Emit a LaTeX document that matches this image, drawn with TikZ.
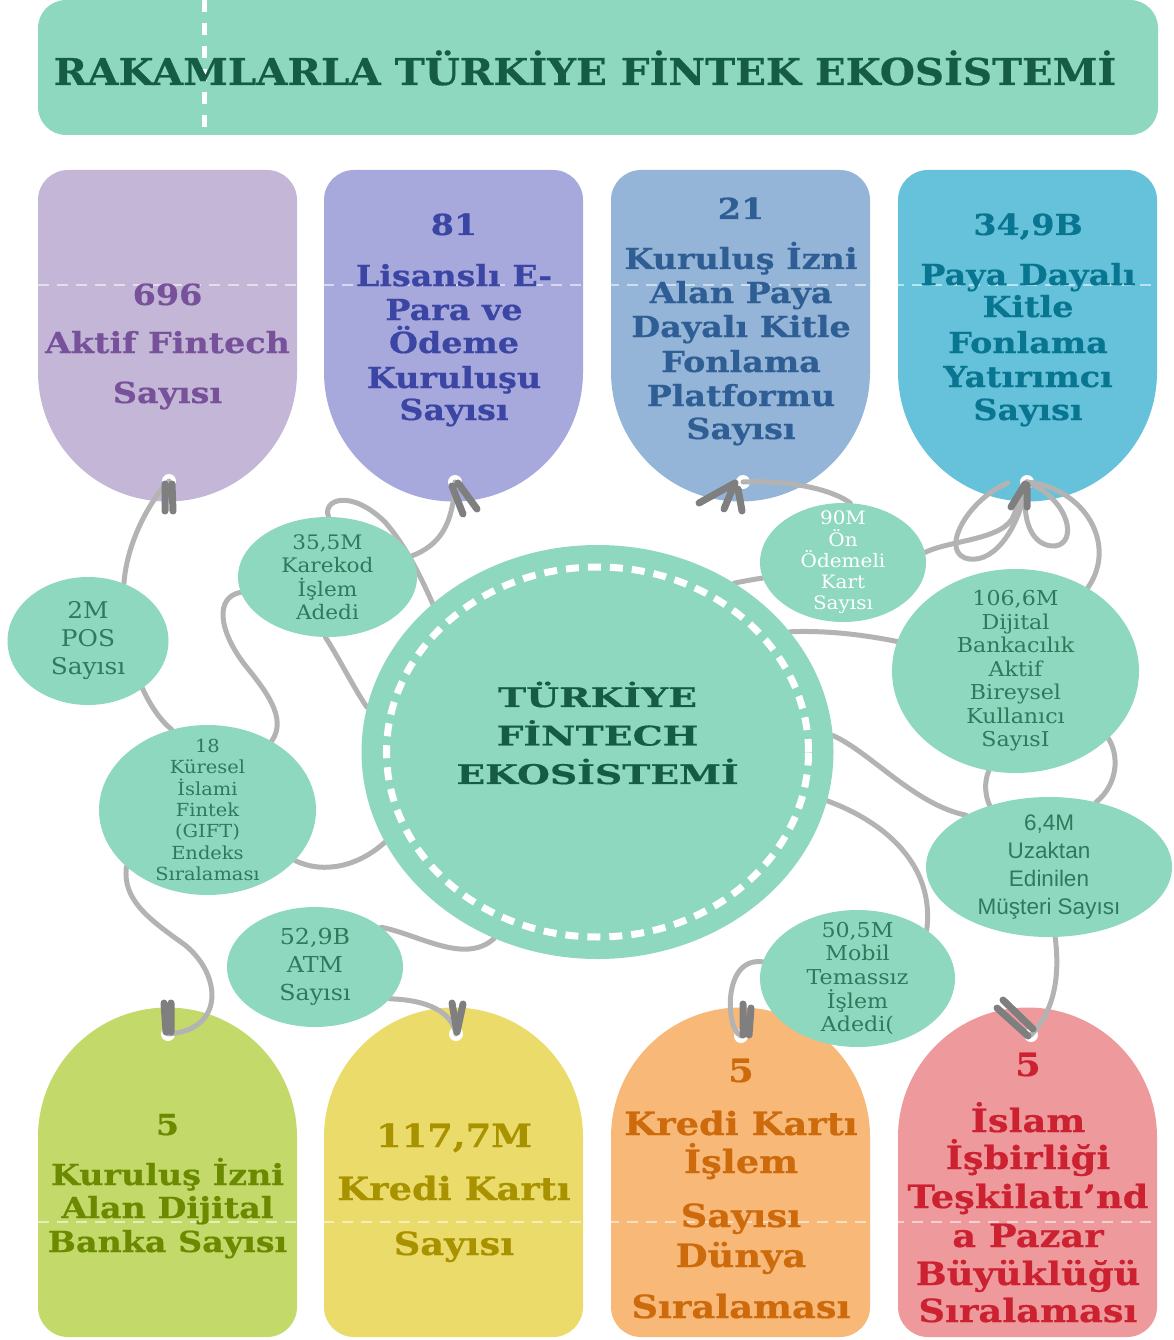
\documentclass[tikz,border=0pt]{standalone}
\usepackage{fontspec}
\usetikzlibrary{shapes.geometric}
\newfontfamily\tagfont{DejaVu Serif}[FakeStretch=1.15,FakeBold=0.6]
\newfontfamily\titlefnt{DejaVu Serif}[FakeStretch=1.09,FakeBold=0.6]
\newfontfamily\centerfnt{DejaVu Serif}[FakeStretch=1.4,FakeBold=0.6]
\newfontfamily\bubfont{DejaVu Serif}[FakeStretch=1.08]
\newfontfamily\bubsans{Liberation Sans}
\definecolor{mint}{HTML}{8ED8C0}
\definecolor{darkgreen}{HTML}{165C45}
\definecolor{bubgreen}{HTML}{2D7A5D}
\definecolor{linegray}{HTML}{B3B3B3}
\definecolor{hookgray}{HTML}{7F7F7F}
\definecolor{fA}{HTML}{C4B6D7}\definecolor{tA}{HTML}{77529B}
\definecolor{fB}{HTML}{A7A8DC}\definecolor{tB}{HTML}{3B45A3}
\definecolor{fC}{HTML}{94B5D8}\definecolor{tC}{HTML}{2F5E95}
\definecolor{fD}{HTML}{66C2DA}\definecolor{tD}{HTML}{087690}
\definecolor{fE}{HTML}{C3DA6B}\definecolor{tE}{HTML}{6B8A00}
\definecolor{fF}{HTML}{EBDB6A}\definecolor{tF}{HTML}{A89200}
\definecolor{fG}{HTML}{F7B878}\definecolor{tG}{HTML}{CC6A0C}
\definecolor{fH}{HTML}{EE9A9D}\definecolor{tH}{HTML}{CC2131}
\pgfdeclarelayer{tagl}\pgfdeclarelayer{linel}\pgfdeclarelayer{hookl}
\pgfsetlayers{tagl,linel,hookl,main}
\tikzset{
  conn/.style={draw=linegray, line width=5pt, line cap=round},
  hookline/.style={draw=hookgray, line width=7pt, line cap=round, line join=round},
  bubble/.style={ellipse, fill=mint, inner sep=0pt},
  bubtext/.style={align=center, text=bubgreen, inner sep=0pt},
  tagline/.style={anchor=base, inner sep=0pt, font=\tagfont\bfseries\fontsize{29}{34}\selectfont},
  bigline/.style={anchor=base, inner sep=0pt, font=\tagfont\bfseries\fontsize{32}{36}\selectfont},
  topdash/.style={white, opacity=0.55, line width=2pt, dash pattern=on 11pt off 8pt},
}
\newcommand\toptag[2]{%
  \fill[#2, rounded corners=30pt] (#1,170) rectangle ++(259,232);
  \fill[#2] (#1+129.5,372) circle[radius=129.5pt];}
\newcommand\bottag[2]{%
  \fill[#2, rounded corners=30pt] (#1,1107) rectangle ++(259,230);
  \fill[#2] (#1+129.5,1137) circle[radius=129.5pt];}
\begin{document}
\begin{tikzpicture}[x=1pt,y=-1pt]
\useasboundingbox (0,0) rectangle (1173,1340);
% hole coordinates
\coordinate (h1) at (169,481);
\coordinate (h2) at (455,482);
\coordinate (h3) at (743,482);
\coordinate (h4) at (1027,482);
\coordinate (hb1) at (168,1034);
\coordinate (hb2) at (456,1034);
\coordinate (hb3) at (741,1036);
\coordinate (hb4) at (1031,1035);
\coordinate (pe) at (1008,483);
\begin{pgfonlayer}{tagl}
  \fill[mint, rounded corners=28pt] (38,0) rectangle (1158,135);
  \draw[white, line width=5pt, dash pattern=on 12pt off 11pt] (204,0) -- (204,135);
  \toptag{38}{fA}\toptag{324}{fB}\toptag{611}{fC}\toptag{898}{fD}
  \bottag{38}{fE}\bottag{324}{fF}\bottag{611}{fG}\bottag{898}{fH}
  \draw[topdash] (38,285) -- (1158,285);
  \draw[topdash] (38,1222) -- (1158,1222);
  \foreach \h in {h1,h2,h3,h4,hb1,hb2,hb3,hb4} \fill[white] (\h) circle[radius=7pt];
\end{pgfonlayer}
% title
\node[anchor=base, inner sep=0pt, text=darkgreen, font=\titlefnt\bfseries\fontsize{37}{40}\selectfont] (title) at (585,85) {RAKAMLARLA TÜRKİYE FİNTEK EKOSİSTEMİ};
% tag texts
\foreach \yy/\txt [count=\i] in {305/696,353/Aktif Fintech,403/Sayısı}
  \node[tagline,text=tA] (tA\i) at (167.5,\yy) {\txt};
\foreach \yy/\txt [count=\i] in {235/81,286/Lisanslı E-,320/Para ve,353/Ödeme,388/Kuruluşu,420/Sayısı}
  \node[tagline,text=tB] (tB\i) at (454,\yy) {\txt};
\foreach \yy/\txt [count=\i] in {219/21,269/Kuruluş İzni,303/Alan Paya,337/Dayalı Kitle,372/Fonlama,406/Platformu,439/Sayısı}
  \node[tagline,text=tC] (tC\i) at (741,\yy) {\txt};
\foreach \yy/\txt [count=\i] in {235/{34,9B},285/Paya Dayalı,317/Kitle,353/Fonlama,387/Yatırımcı,420/Sayısı}
  \node[tagline,text=tD] (tD\i) at (1028,\yy) {\txt};
\foreach \yy/\txt [count=\i] in {1135/5,1185/Kuruluş İzni,1218/Alan Dijital,1252/Banka Sayısı}
  \node[tagline,text=tE] (tE\i) at (167.5,\yy) {\txt};
\foreach \yy/\txt [count=\i] in {1147/{117,7M},1200/Kredi Kartı,1255/Sayısı}
  \node[bigline,text=tF] (tF\i) at (454,\yy) {\txt};
\foreach \yy/\txt [count=\i] in {1082/5,1135/Kredi Kartı,1173/İşlem,1227/Sayısı,1267/Dünya,1318/Sıralaması}
  \node[bigline,text=tG] (tG\i) at (741,\yy) {\txt};
\foreach \yy/\txt [count=\i] in {1076/5,1132/İslam,1169/İşbirliği,1208/Teşkilatı’nd,1247/a Pazar,1285/Büyüklüğü,1322/Sıralaması}
  \node[bigline,text=tH] (tH\i) at (1028,\yy) {\txt};
% central ellipse
\node[bubble, minimum width=472pt, minimum height=414pt] (ctr) at (597.5,752) {};
\draw[white, line width=7pt, dash pattern=on 13pt off 9pt] (ctr.center) ellipse[x radius=211pt, y radius=185pt];
\node[align=center, inner sep=0pt, text=darkgreen, font=\centerfnt\bfseries\fontsize{27}{38.5}\selectfont] (ctrtext) at (597.5,733) {TÜRKİYE\\FİNTECH\\EKOSİSTEMİ};
% bubbles
\node[bubble, minimum width=161pt, minimum height=128pt] (pos) at (88,641) {};
\node[bubtext, font=\bubfont\fontsize{23}{28}\selectfont] (post) at (pos.center) {2M\\POS\\Sayısı};
\node[bubble, minimum width=179pt, minimum height=120pt] (kar) at (327.5,577) {};
\node[bubtext, font=\bubfont\fontsize{20}{23.5}\selectfont] (kart) at (kar.center) {35,5M\\Karekod\\İşlem\\Adedi};
\node[bubble, minimum width=217pt, minimum height=170pt] (gift) at (207.5,810) {};
\node[bubtext, font=\bubfont\fontsize{18}{21.3}\selectfont] (giftt) at (gift.center) {18\\Küresel\\İslami\\Fintek\\(GIFT)\\Endeks\\Sıralaması};
\node[bubble, minimum width=176pt, minimum height=120pt] (atm) at (315,967) {};
\node[bubtext, font=\bubfont\fontsize{22}{28}\selectfont] (atmt) at (atm.center) {52,9B\\ATM\\Sayısı};
\node[bubble, minimum width=166pt, minimum height=119pt] (onk) at (843,562.5) {};
\node[bubtext, text=white, font=\bubfont\fontsize{18.5}{21.3}\selectfont] (onkt) at (onk.center) {90M\\Ön\\Ödemeli\\Kart\\Sayısı};
\node[bubble, minimum width=247pt, minimum height=204pt] (dij) at (1015.5,671) {};
\node[bubtext, font=\bubfont\fontsize{20.5}{23.5}\selectfont] (dijt) at (dij.center) {106,6M\\Dijital\\Bankacılık\\Aktif\\Bireysel\\Kullanıcı\\SayısI};
\node[bubble, minimum width=246pt, minimum height=140pt] (uza) at (1049,867) {};
\node[bubtext, font=\bubsans\fontsize{22.5}{28}\selectfont] (uzat) at (uza.center) {6,4M\\Uzaktan\\Edinilen\\Müşteri Sayısı};
\node[bubble, minimum width=195pt, minimum height=137pt] (mob) at (857.5,978.5) {};
\node[bubtext, font=\bubfont\fontsize{20.5}{23.7}\selectfont] (mobt) at (mob.center) {50,5M\\Mobil\\Temassız\\İşlem\\Adedi(};
% connectors
\begin{pgfonlayer}{linel}
  \draw[conn] (h1) .. controls (152,498) and (127,540) .. (pos.58);
  \draw[conn] (pos.-41) .. controls (150,705) and (160,720) .. (gift.114);
  \draw[conn] (h2) .. controls (453,525) and (440,545) .. (kar.14);
  \draw[conn] (kar.89) .. controls (322,500) and (350,488) .. (385,522) .. controls (405,545) and (420,575) .. (ctr.138);
  \draw[conn] (kar.-92) .. controls (340,660) and (355,690) .. (ctr.169);
  \draw[conn] (kar.190) .. controls (215,597) and (218,630) .. (245,665) .. controls (265,690) and (288,718) .. (gift.47);
  \draw[conn] (gift.-30) .. controls (325,875) and (360,865) .. (ctr.203);
  \draw[conn] (gift.215) .. controls (122,900) and (150,920) .. (185,945) .. controls (222,975) and (225,1030) .. (hb1);
  \draw[conn] (atm.31) .. controls (420,935) and (465,965) .. (ctr.241);
  \draw[conn] (atm.-23) .. controls (428,1000) and (452,1012) .. (hb2);
  \draw[conn] (h3) .. controls (785,480) and (830,488) .. (onk.83);
  \draw[conn] (ctr.51) .. controls (745,581) and (755,579) .. (onk.191);
  \draw[conn] (onk.7) .. controls (950,540) and (1005,540) .. (1014,515) .. controls (1019,500) and (1023,492) .. (h4);
  \draw[conn] (pe) .. controls (970,498) and (940,548) .. (965,558) .. controls (990,566) and (1018,535) .. (h4);
  \draw[conn] (h4) .. controls (1020,522) and (1033,547) .. (1055,546) .. controls (1078,543) and (1070,500) .. (h4);
  \draw[conn] (h4) .. controls (1085,488) and (1118,545) .. (dij.49);
  \draw[conn] (ctr.32) .. controls (830,630) and (870,636) .. (dij.166);
  \draw[conn] (dij.255) .. controls (984,782) and (985,795) .. (uza.134);
  \draw[conn] (dij.-36) .. controls (1120,757) and (1117,785) .. (uza.54);
  \draw[conn] (ctr.4) .. controls (870,752) and (915,805) .. (uza.148);
  \draw[conn] (ctr.-12) .. controls (885,822) and (935,865) .. (mob.35);
  \draw[conn] (mob.170) .. controls (733,958) and (728,995) .. (731,1015) .. controls (733,1028) and (736,1033) .. (hb3);
  \draw[conn] (uza.-85) .. controls (1060,975) and (1055,1010) .. (hb4);
\end{pgfonlayer}
% hooks
\begin{pgfonlayer}{hookl}
  \draw[hookline] (165,484) -- (165,511) (172,484) -- (173,511);
  \draw[hookline] (452,486) -- (463,514) (458,483) -- (477,509);
  \draw[hookline] (699,503) -- (735,483) -- (724,509) (738,489) -- (742,511);
  \draw[hookline] (1011,507) -- (1025,484) (1027,485) -- (1027,507);
  \draw[hookline] (164,1003) -- (166,1032) (171,1003) -- (171,1032);
  \draw[hookline] (452,1003) -- (457,1032) (463,1004) -- (457,1032);
  \draw[hookline] (743,1004) -- (743,1035) (751,1008) -- (749,1035);
  \draw[hookline] (997,1008) -- (1028,1036) (1003,1000) -- (1033,1029);
\end{pgfonlayer}
\end{tikzpicture}
\end{document}
